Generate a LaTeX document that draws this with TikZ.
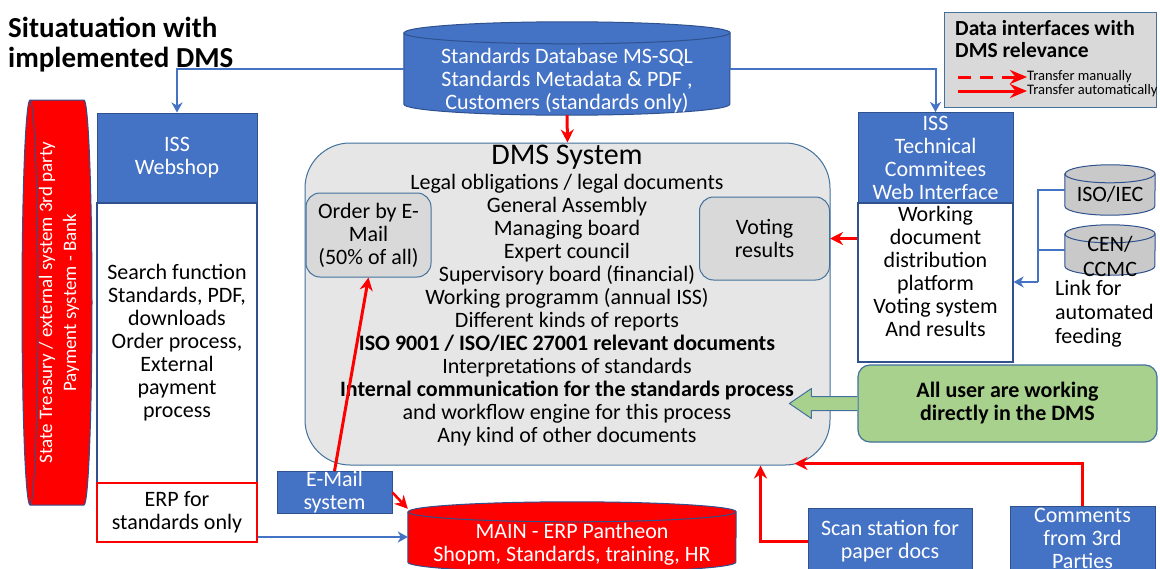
\documentclass[tikz,border=0pt]{standalone}
\usepackage{fontspec}
\setmainfont{Carlito}
\usetikzlibrary{arrows.meta}
\definecolor{officeblue}{HTML}{4472C4}
\definecolor{darkblue}{HTML}{2F528F}
\definecolor{edgeblue}{HTML}{41719C}
\definecolor{dmsgrey}{HTML}{E7E6E6}
\definecolor{boxgrey}{HTML}{D9D9D9}
\definecolor{cylgrey}{HTML}{C9C9C9}
\definecolor{lightgreen}{HTML}{A9D18E}
\definecolor{brightred}{HTML}{FF0000}
\tikzset{
  body/.style={font=\fontsize{22}{23}\selectfont, align=center},
  bluebox/.style={body, fill=officeblue, draw=darkblue, text=white, line width=1pt, inner sep=0pt},
  whitebox/.style={body, fill=white, draw=darkblue, line width=1.2pt, inner sep=0pt},
  dbbody/.style={inner sep=0pt},
  greybox/.style={body, rounded corners=14pt, fill=boxgrey, draw=edgeblue, line width=1pt, inner sep=0pt},
  blueline/.style={draw=officeblue, line width=2pt},
  bluearrow/.style={blueline, -{Stealth[length=10pt,width=11pt,inset=3pt]}},
  redarrow/.style={draw=brightred, line width=3pt, -{Stealth[length=13pt,width=13pt]}},
  manual/.style={dash pattern=on 13pt off 9pt},
  automatic/.style={solid},
}
% database drum drawn round a named body node: #1 node, #2 x radius, #3 y radius, #4 fill
\newcommand{\dbdrum}[4]{%
  \filldraw [fill=#4, draw=darkblue, line width=1pt]
    ([yshift=-#3]#1.north west) -- ([yshift=#3]#1.south west)
    arc [start angle=180, end angle=360, x radius=#2, y radius=#3]
    -- ([yshift=-#3]#1.north east)
    arc [start angle=0, end angle=180, x radius=#2, y radius=#3] -- cycle;
  \draw [draw=darkblue, line width=1pt] ([yshift=-#3]#1.north west)
    arc [start angle=180, end angle=360, x radius=#2, y radius=#3];
}
\begin{document}
\begin{tikzpicture}[x=1pt,y=1pt]
            \useasboundingbox (0,0) rectangle (1160,-568);
            \fill [white] (0,0) rectangle (1160,-568);
            \clip (0,0) rectangle (1160,-568);

            % Title and legend
            \node (title) [anchor=north west, align=left, inner sep=0pt,
              font=\bfseries\fontsize{29}{30}\selectfont] at (8,-17)
              {Situatuation with\\implemented DMS};
            \node (legend) [fill=boxgrey, draw=edgeblue, line width=1pt,
              minimum width=212pt, minimum height=95pt] at (1050,-59.5) {};
            \node (legtitle) [anchor=north west, align=left, inner sep=0pt,
              font=\bfseries\fontsize{21.5}{22}\selectfont] at (955,-20)
              {Data interfaces with\\DMS relevance};
            \foreach \i/\y/\sty/\lab in {1/77/manual/Transfer manually,
                                        2/91/automatic/Transfer automatically} {
              \coordinate (leg\i) at (958,-\y);
              \node (legtext\i) [anchor=west, inner sep=0pt,
                font=\fontsize{14.5}{15}\selectfont] at (1027,-\y) {\lab};
              \draw [draw=brightred, line width=3pt, \sty,
                -{Stealth[length=17pt,width=14pt]}] (leg\i) -- (legtext\i.west);
            }

            % Databases
            \node (db) [dbbody, minimum width=326pt, minimum height=93pt] at (567,-68.5) {};
            \dbdrum{db}{163}{11}{officeblue}
            \node (dbtext) [body, text=white, inner sep=0pt] at (567,-81)
              {Standards Database MS-SQL\\Standards Metadata \& PDF ,\\Customers (standards only)};
            \node (main) [dbbody, minimum width=328pt, minimum height=70pt] at (572,-537) {};
            \dbdrum{main}{164}{10}{brightred}
            \node (maintext) [body, text=white, inner sep=0pt] at (572,-544)
              {MAIN - ERP Pantheon\\Shopm, Standards, training, HR};
            \node (iso) [dbbody, minimum width=90pt, minimum height=50pt] at (1110,-190) {};
            \dbdrum{iso}{45}{9}{cylgrey}
            \node (isotext) [body, inner sep=0pt] at (1110,-194) {ISO/IEC};
            \node (cen) [dbbody, minimum width=90pt, minimum height=50pt] at (1110,-250) {};
            \dbdrum{cen}{45}{9}{cylgrey}
            \node (centext) [body, font=\fontsize{22}{25}\selectfont, inner sep=0pt]
              at (1110,-256) {CEN/\\CCMC};
            \node (feedtext) [body, font=\fontsize{22}{24}\selectfont, align=left,
              anchor=north west, inner sep=0pt] at (1055,-280) {Link for\\automated\\feeding};

            % External payment drum, lying on its side
            \fill [brightred, draw=darkblue, line width=1pt] (30,-100) -- (84,-100)
              arc [start angle=90, end angle=-90, x radius=8, y radius=202.5] -- (30,-505)
              arc [start angle=270, end angle=90, x radius=8, y radius=202.5] -- cycle;
            \draw [darkblue, line width=1pt] (30,-100)
              arc [start angle=90, end angle=-90, x radius=8, y radius=202.5];
            \node (bank) [rotate=90, align=center, text=white, inner sep=0pt,
              font=\fontsize{19}{24}\selectfont] at (59,-302.5)
              {State Treasury / external system 3rd party\\Payment system - Bank};

            % Webshop column
            \node (webhead) [bluebox, minimum width=160pt, minimum height=90pt]
              at (177,-158) {ISS\\Webshop};
            \node (webbody) [whitebox, minimum width=160pt, minimum height=280pt]
              at (177,-343) {Search function\\Standards, PDF,\\downloads\\Order process,\\External\\payment\\process};
            \node (erp) [whitebox, draw=brightred, minimum width=160pt, minimum height=59pt]
              at (177,-512.5) {ERP for\\standards only};
            \node (mail) [bluebox, minimum width=115pt, minimum height=41pt]
              at (334.5,-492.5) {E-Mail\\system};

            % DMS
            \node (dms) [rounded corners=45pt, fill=dmsgrey, draw=edgeblue, line width=1pt,
              minimum width=525pt, minimum height=322pt] at (567.5,-304) {};
            \node (dmstitle) [font=\fontsize{30}{30}\selectfont, inner sep=0pt]
              at (567,-157) {DMS System};
            \node (dmstext) [body, inner sep=0pt] at (567,-310)
              {Legal obligations / legal documents\\General Assembly\\Managing board\\Expert council\\
               Supervisory board (financial)\\Working programm (annual ISS)\\Different kinds of reports\\
               \textbf{ISO 9001 / ISO/IEC 27001 relevant documents}\\Interpretations of standards\\
               \textbf{Internal communication for the standards process}\\
               and workflow engine for this process\\Any kind of other documents};
            \node (order) [greybox, minimum width=125pt, minimum height=84pt]
              at (368.5,-235) {Order by E-\\Mail\\(50\% of all)};
            \node (voting) [greybox, minimum width=130pt, minimum height=83pt]
              at (764.5,-238.5) {Voting\\results};

            % Technical committees column
            \node (tchead) [bluebox, minimum width=155pt, minimum height=91pt]
              at (935.5,-158) {ISS\\Technical\\Commitees\\Web Interface};
            \node (tcbody) [whitebox, minimum width=155pt, minimum height=159pt]
              at (935.5,-282.5) {};
            \node (tctext) [body, inner sep=0pt] at (935.5,-271)
              {Working\\document\\distribution\\platform\\Voting system\\And results};
            \node (users) [body, font=\bfseries\fontsize{22}{23}\selectfont,
              rounded corners=12pt, fill=lightgreen, draw=edgeblue, line width=1.2pt,
              minimum width=299pt, minimum height=77pt] at (1007.5,-403.5)
              {All user are working\\directly in the DMS};
            \draw [fill=lightgreen, draw=edgeblue, line width=1pt, line join=round]
              (users.west) ++(0,7) -- ++(-46,0) -- ++(0,8) -- ++(-22,-15)
              -- ++(22,-15) -- ++(0,8) -- ++(46,0);

            % Bottom sources
            \node (scan) [bluebox, minimum width=164pt, minimum height=66pt]
              at (890,-541) {Scan station for\\paper docs};
            \node (comments) [bluebox, minimum width=145pt, minimum height=64pt]
              at (1082.5,-538) {Comments\\from 3rd\\Parties};

            % Blue links
            \draw [bluearrow] (db.west) -| (webhead.north);
            \draw [bluearrow] (db.east) -| (tchead.north);
            \coordinate (feed) at (1038,-282);
            \draw [blueline] (iso.west) -| (feed);
            \draw [blueline] (cen.west) -- (cen.west -| feed);
            \draw [bluearrow] (feed) -- (feed -| tcbody.east);
            \draw [bluearrow] (erp.east |- main.west) -- (main.west);

            % Red links
            \draw [redarrow] (db.south) -- (dms.north);
            \draw [redarrow] (tcbody.west |- voting.east) -- (voting.east);
            \draw [redarrow] (mail.north) -- (order.south);
            \draw [redarrow, line width=2.5pt] (mail.east) -- ([yshift=-7pt]main.north west);
            \draw [redarrow] (scan.west) -| ([xshift=-70pt]dms.south east);
            \draw [redarrow] (comments.north) |- ([xshift=-36pt,yshift=2pt]dms.south east);
        \end{tikzpicture}
\end{document}
